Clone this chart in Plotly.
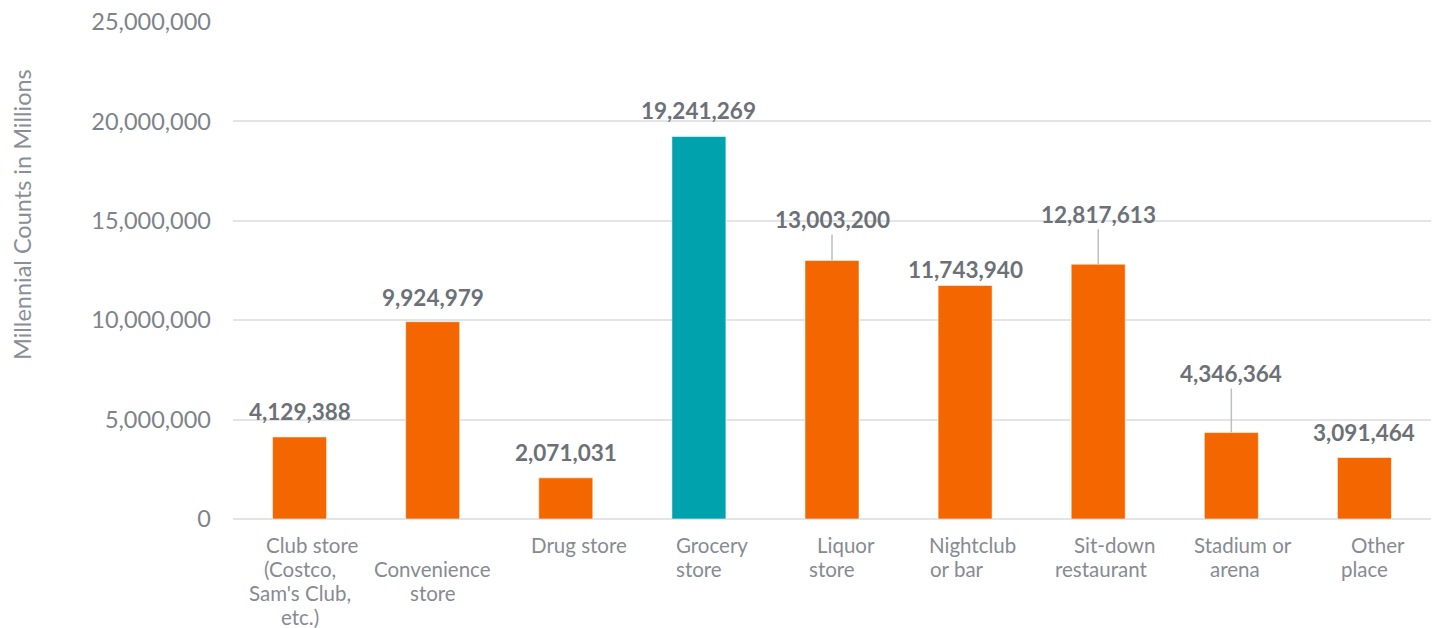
import plotly.graph_objects as go

# Where millennials purchase / consume — counts per place type
categories = [
    "Club store (Costco, Sam's Club, etc.)",
    "Convenience store",
    "Drug store",
    "Grocery store",
    "Liquor store",
    "Nightclub or bar",
    "Sit-down restaurant",
    "Stadium or arena",
    "Other place",
]
label_lines = [
    ["Club store", "(Costco,", "Sam's Club,", "etc.)"],
    ["Convenience", "store"],
    ["Drug store"],
    ["Grocery", "store"],
    ["Liquor", "store"],
    ["Nightclub", "or bar"],
    ["Sit-down", "restaurant"],
    ["Stadium or", "arena"],
    ["Other", "place"],
]
counts = [4129388, 9924979, 2071031, 19241269, 13003200, 11743940, 12817613, 4346364, 3091464]
highlight = "Grocery store"

y_ticks = [0, 5000000, 10000000, 15000000, 20000000, 25000000]

# styling
ORANGE = "#F46600"
TEAL = "#00A3AD"
VALUE_COLOR = "#6C7178"
TICK_COLOR = "#7E838A"
CAT_COLOR = "#868B92"
GRID = "#E2E4E5"
FONT = "Lato"

# vertical distance (px) from bar top to the value label centre; leader line when large
label_offsets = [25, 24, 25, 26, 41, 16, 50, 59, 25]
leader = [False, False, False, False, True, False, True, True, False]
# horizontal nudge of the first category-label line, and line start row
first_line_shift = [13, 0, 13, 13, 14, 7, 16, 12, 14]
start_row = [0, 1, 0, 0, 0, 0, 0, 0, 0]
second_line_shift = [0, 0, 0, 0, 0, -8, 3, 4, 0]

colors = [TEAL if c == highlight else ORANGE for c in categories]

fig = go.Figure(
    go.Bar(
        x=categories,
        y=counts,
        marker=dict(color=colors, line=dict(color="rgba(255,255,255,0.55)", width=1)),
        hoverinfo="x+y",
    )
)

annotations = []
for i, (cat, val) in enumerate(zip(categories, counts)):
    text = f"{val:,}"
    font = dict(family=FONT, size=22.5, color=VALUE_COLOR, weight="bold")
    if leader[i]:
        annotations.append(dict(
            x=cat, y=val, xref="x", yref="y", text=f"<b>{text}</b>", font=font,
            showarrow=True, arrowhead=0, arrowwidth=1.5, arrowcolor="#BCC0C4",
            ax=0, ay=-label_offsets[i], borderpad=1,
        ))
    else:
        annotations.append(dict(
            x=cat, y=val, xref="x", yref="y", text=f"<b>{text}</b>", font=font,
            showarrow=False, yanchor="middle", yshift=label_offsets[i],
        ))
    # category labels, one annotation per line
    for j, line in enumerate(label_lines[i]):
        row = start_row[i] + j
        xs = first_line_shift[i] if j == 0 else (second_line_shift[i] if j == 1 else 0)
        annotations.append(dict(
            x=cat, y=0, xref="x", yref="paper", text=line,
            font=dict(family=FONT, size=20.5, color=CAT_COLOR),
            showarrow=False, xanchor="center", yanchor="middle",
            xshift=xs, yshift=-(26 + row * 24),
        ))

# y-axis title
annotations.append(dict(
    x=-0.176, y=0.612, xref="paper", yref="paper", text="Millennial Counts in Millions",
    textangle=-90, showarrow=False, xanchor="center", yanchor="middle",
    font=dict(family=FONT, size=23.5, color="#8A8F96"),
))

fig.update_layout(
    width=1438,
    height=628,
    margin=dict(l=233, r=7, t=19, b=109),
    paper_bgcolor="white",
    plot_bgcolor="white",
    bargap=0.594,
    showlegend=False,
    annotations=annotations,
    xaxis=dict(
        showticklabels=False, showgrid=False, showline=False, zeroline=False,
        range=[-0.5, 8.5], fixedrange=True,
    ),
    yaxis=dict(
        range=[0, 25000000], tickvals=y_ticks, tickformat=",",
        showgrid=True, gridcolor=GRID, gridwidth=2,
        zeroline=True, zerolinecolor=GRID, zerolinewidth=2,
        showline=False, ticks="", ticklabelstandoff=21,
        tickfont=dict(family=FONT, size=23.5, color=TICK_COLOR),
    ),
)

fig.write_html("out.html")
